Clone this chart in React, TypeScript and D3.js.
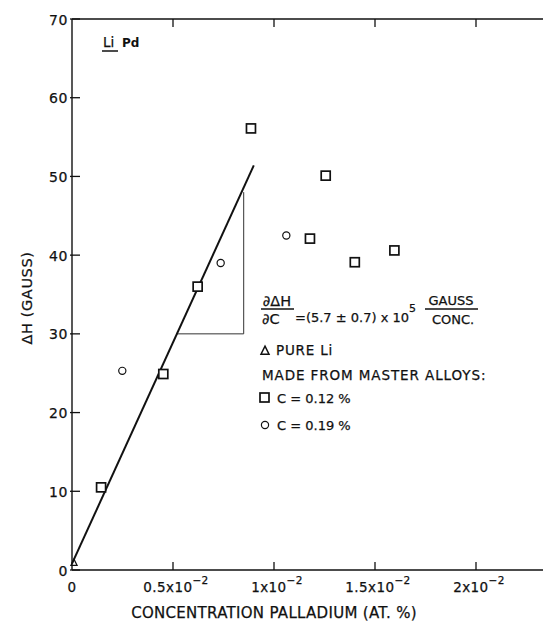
import React from "react";
import * as d3 from "d3";

// concentration in units of 1e-2 at.%, line width in gauss
const squareConc = [0.144, 0.452, 0.622, 0.886, 1.178, 1.256, 1.4, 1.596];
const squareDH = [10.5, 24.9, 36.0, 56.1, 42.1, 50.1, 39.1, 40.6];
const circleConc = [0.249, 0.736, 1.061];
const circleDH = [25.3, 39.0, 42.5];
const pureConc = [0.01];
const pureDH = [0.9];
const fitConc = [0, 0.9];
const fitDH = [0.8, 51.4];
const slopeConc = [0.85];
const slopeDH = [30, 48];
const xTicks = [0, 0.5, 1, 1.5, 2];
const xTickLabels = ["0", "0.5x10", "1x10", "1.5x10", "2x10"];
const yTicks = [0, 10, 20, 30, 40, 50, 60, 70];

const W = 543;
const H = 622;
const FONT = "'DejaVu Sans', sans-serif";
const INK = "#111";
// a thin outline on the text to get closer to the heavy lettering
const heavy = { stroke: INK, strokeWidth: 0.25 };

export default function App() {
  const x = d3.scaleLinear().domain([0, 2]).range([72, 476]);
  const y = d3.scaleLinear().domain([0, 70]).range([570, 19]);
  const xEnd = W;

  const fitLine = d3
    .line<number>()
    .x((d) => x(d))
    .y((d, i) => y(fitDH[i]));

  // where the fit line reaches the bottom of the slope triangle
  const fitSlope = (fitDH[1] - fitDH[0]) / (fitConc[1] - fitConc[0]);
  const slopeStart = fitConc[0] + (slopeDH[0] - fitDH[0]) / fitSlope;

  const sq = 9;
  const tri = (cx: number, cy: number, s: number) =>
    `M${cx},${cy - s * 0.6}L${cx + s / 2},${cy + s * 0.4}L${cx - s / 2},${cy + s * 0.4}Z`;

  return (
    <svg
      width={W}
      height={H}
      style={{ position: "absolute", left: 0, top: 0, background: "#fff" }}
      fontFamily={FONT}
    >
      {/* frame: left axis, bottom axis, top border */}
      <g stroke={INK} strokeWidth={1.4} fill="none">
        <line x1={x(0)} x2={x(0)} y1={y(0)} y2={y(70)} />
        <line x1={x(0)} x2={xEnd} y1={y(0)} y2={y(0)} />
        <line x1={x(0)} x2={xEnd} y1={y(70)} y2={y(70)} />
      </g>

      {/* y ticks */}
      {yTicks.map((t) => (
        <g key={"y" + t}>
          <line x1={x(0) - 2} x2={x(0) + 8} y1={y(t)} y2={y(t)} stroke={INK} strokeWidth={1.3} />
          <text
            x={x(0) - 4}
            y={y(t) + 5.5}
            textAnchor="end"
            fontSize={14}
            letterSpacing={0.6}
            fill={INK}
            {...heavy}
          >
            {t}
          </text>
        </g>
      ))}

      {/* x ticks (bottom and top, pointing inward) */}
      {xTicks.slice(1).map((t) => (
        <g key={"x" + t} stroke={INK} strokeWidth={1.3}>
          <line x1={x(t)} x2={x(t)} y1={y(0)} y2={y(0) - 8} />
          <line x1={x(t)} x2={x(t)} y1={y(70)} y2={y(70) + 8} />
        </g>
      ))}
      {xTicks.map((t, i) => (
        <text
          key={"xl" + t}
          x={x(t) + (i === 0 ? 0 : 3)}
          y={592}
          textAnchor="middle"
          fontSize={13.5}
          letterSpacing={0.4}
          fill={INK}
          {...heavy}
        >
          {xTickLabels[i]}
          {i > 0 && (
            <tspan dy={-8} fontSize={10.5}>
              −2
            </tspan>
          )}
        </text>
      ))}

      {/* axis titles */}
      <text x={274} y={618} textAnchor="middle" fontSize={15} letterSpacing={0.3} fill={INK} {...heavy}>
        CONCENTRATION PALLADIUM (AT. %)
      </text>
      <text
        transform="translate(32,298) rotate(-90)"
        textAnchor="middle"
        fontSize={14.5}
        letterSpacing={0.6}
        fill={INK}
        {...heavy}
      >
        ΔH (GAUSS)
      </text>

      {/* alloy label */}
      <text x={103} y={47} fontSize={13.5} fill={INK} {...heavy}>
        Li
      </text>
      <line x1={102} x2={118} y1={51} y2={51} stroke={INK} strokeWidth={1.5} />
      <text x={122} y={47} fontSize={12} fontWeight="bold" fill={INK}>
        Pd
      </text>

      {/* slope triangle */}
      <g stroke="#333" strokeWidth={1} fill="none">
        <line x1={x(slopeStart)} x2={x(slopeConc[0])} y1={y(slopeDH[0])} y2={y(slopeDH[0])} />
        <line x1={x(slopeConc[0])} x2={x(slopeConc[0])} y1={y(slopeDH[0])} y2={y(slopeDH[1])} />
      </g>

      {/* fit line */}
      <path d={fitLine(fitConc) ?? ""} stroke={INK} strokeWidth={2} fill="none" />

      {/* data */}
      {squareConc.map((c, i) => (
        <rect
          key={"s" + i}
          x={x(c) - sq / 2}
          y={y(squareDH[i]) - sq / 2}
          width={sq}
          height={sq}
          fill="#fff"
          stroke={INK}
          strokeWidth={1.7}
        />
      ))}
      {circleConc.map((c, i) => (
        <circle
          key={"c" + i}
          cx={x(c)}
          cy={y(circleDH[i])}
          r={3.6}
          fill="#fff"
          stroke={INK}
          strokeWidth={1.2}
        />
      ))}
      {pureConc.map((c, i) => (
        <path key={"t" + i} d={tri(x(c), y(pureDH[i]), 6)} fill="none" stroke={INK} strokeWidth={1.3} />
      ))}

      {/* slope formula */}
      <g fill={INK}>
        <text x={277} y={306} textAnchor="middle" fontSize={14.5} {...heavy}>
          ∂ΔH
        </text>
        <line x1={261} x2={294} y1={309} y2={309} stroke={INK} strokeWidth={1.6} />
        <text x={262} y={324} fontSize={14.5} {...heavy}>
          ∂C
        </text>
        <text x={295} y={322} fontSize={13} {...heavy}>
          =(5.7 ± 0.7) x 10
          <tspan dy={-10} fontSize={11}>
            5
          </tspan>
        </text>
        <text x={451} y={305} textAnchor="middle" fontSize={13} {...heavy}>
          GAUSS
        </text>
        <line x1={425} x2={478} y1={309} y2={309} stroke={INK} strokeWidth={1.6} />
        <text x={453} y={324} textAnchor="middle" fontSize={13} {...heavy}>
          CONC.
        </text>
      </g>

      {/* legend */}
      <g fill={INK} fontSize={13.5}>
        <path d={tri(265, 351, 8)} fill="none" stroke={INK} strokeWidth={1.5} />
        <text x={276} y={355} letterSpacing={0.8} {...heavy}>
          PURE Li
        </text>
        <text x={262} y={380} letterSpacing={0.9} {...heavy}>
          MADE FROM MASTER ALLOYS:
        </text>
        <rect x={260} y={393} width={9} height={9} fill="#fff" stroke={INK} strokeWidth={1.7} />
        <text x={277} y={403} fontSize={13} {...heavy}>
          C = 0.12 %
        </text>
        <circle cx={265} cy={425} r={3.6} fill="#fff" stroke={INK} strokeWidth={1.2} />
        <text x={277} y={430} fontSize={13} {...heavy}>
          C = 0.19 %
        </text>
      </g>
    </svg>
  );
}
